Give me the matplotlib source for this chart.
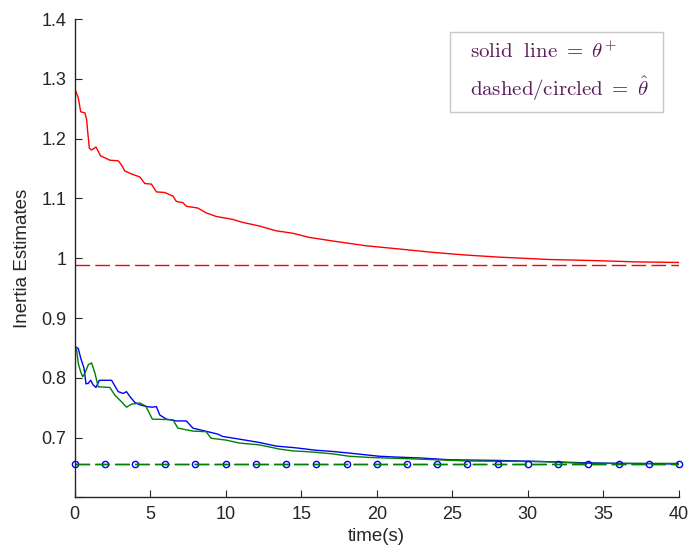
import matplotlib
matplotlib.use("Agg")
import matplotlib.pyplot as plt
from matplotlib.patches import Rectangle

plt.rcParams["font.family"] = ["Liberation Sans", "DejaVu Sans"]
plt.rcParams["mathtext.fontset"] = "cm"
plt.rcParams["lines.scale_dashes"] = False

# Estimate of the first inertia parameter (red)
t_red = [0.0, 0.25, 0.41, 0.69, 0.80, 0.87, 0.98, 1.13, 1.42, 1.73, 2.01, 2.34,
         2.89, 3.11, 3.33, 3.77, 4.32, 4.65, 5.09, 5.42, 5.97, 6.51, 6.74, 7.17,
         7.40, 8.16, 8.71, 9.37, 10.47, 11.13, 12.23, 13.33, 14.42, 15.52, 17.06,
         19.26, 21.46, 23.65, 25.85, 28.05, 31.35, 34.64, 37.06, 40.0]
v_red = [1.285, 1.268, 1.245, 1.243, 1.232, 1.212, 1.184, 1.181, 1.186, 1.171,
         1.168, 1.164, 1.163, 1.156, 1.146, 1.141, 1.136, 1.125, 1.124, 1.111,
         1.110, 1.104, 1.095, 1.093, 1.087, 1.084, 1.076, 1.070, 1.065, 1.060,
         1.054, 1.046, 1.042, 1.035, 1.029, 1.021, 1.0156, 1.010, 1.0055, 1.002,
         0.998, 0.996, 0.994, 0.993]

# Estimate of the second inertia parameter (blue)
t_blue = [0.0, 0.25, 0.41, 0.63, 0.76, 0.91, 1.07, 1.24, 1.42, 1.64, 2.45, 2.89,
          3.22, 3.44, 3.66, 3.99, 4.32, 4.76, 5.15, 5.42, 5.64, 6.08, 6.74, 7.40,
          7.83, 8.82, 9.48, 9.81, 10.8, 12.23, 13.33, 14.65, 15.97, 17.06, 18.27,
          20.14, 20.9, 22.9, 24.87, 27.9, 31.1, 33.8, 36.0, 40.0]
v_blue = [0.853, 0.849, 0.833, 0.816, 0.790, 0.791, 0.796, 0.788, 0.784, 0.796,
          0.796, 0.777, 0.774, 0.777, 0.769, 0.759, 0.755, 0.752, 0.751, 0.752,
          0.738, 0.731, 0.728, 0.728, 0.716, 0.710, 0.706, 0.702, 0.698, 0.692,
          0.686, 0.683, 0.679, 0.677, 0.674, 0.669, 0.668, 0.666, 0.663, 0.662,
          0.660, 0.658, 0.657, 0.656]

# Estimate of the third inertia parameter (green)
t_green = [0.0, 0.14, 0.25, 0.41, 0.54, 0.69, 0.91, 1.13, 1.35, 1.57, 2.34, 2.67,
           3.11, 3.44, 3.77, 4.32, 4.71, 5.15, 6.51, 6.84, 7.83, 8.71, 9.04,
           10.03, 10.91, 12.23, 13.55, 14.42, 15.74, 17.06, 18.16, 19.48, 23.0,
           26.07, 30.9, 33.8, 40.0]
v_green = [0.853, 0.847, 0.824, 0.810, 0.802, 0.808, 0.822, 0.825, 0.808, 0.785,
           0.784, 0.771, 0.760, 0.751, 0.756, 0.758, 0.753, 0.731, 0.730, 0.716,
           0.711, 0.710, 0.699, 0.696, 0.691, 0.688, 0.681, 0.678, 0.676, 0.673,
           0.669, 0.667, 0.664, 0.661, 0.660, 0.657, 0.657]

# True parameter values
true_red = 0.989
true_green = 0.6555
true_blue = 0.6555
t_span = [0.0, 40.0]
t_circles = list(range(0, 41, 2))

fig = plt.figure(figsize=(6.9, 5.53), dpi=100)
ax = fig.add_axes([0.108, 0.1004, 0.876, 0.8651])

lw = 1.0
dash = (10.5, 3.8)
ax.plot(t_red, v_red, color=(1, 0, 0), lw=lw)
ax.plot(t_span, [true_red, true_red], color=(1, 0, 0), lw=lw, dashes=dash)
ax.plot(t_blue, v_blue, color=(0, 0, 1), lw=lw)
ax.plot(t_green, v_green, color=(0, 0.5, 0), lw=lw)
ax.plot(t_span, [true_blue, true_blue], color=(0, 0, 1), lw=lw, dashes=dash)
ax.plot(t_circles, [true_blue] * len(t_circles), ls="none", marker="o",
        ms=4.5, mfc="none", mec=(0, 0, 1), mew=1.0, clip_on=False)
ax.plot(t_span, [true_green, true_green], color=(0, 0.5, 0), lw=lw, dashes=dash)

ax.set_xlim(0, 40)
ax.set_ylim(0.6, 1.4)
ax.set_xticks(range(0, 41, 5))
ax.set_yticks([0.6, 0.7, 0.8, 0.9, 1.0, 1.1, 1.2, 1.3, 1.4])
ax.set_yticklabels(["", "0.7", "0.8", "0.9", "1", "1.1", "1.2", "1.3", "1.4"])
ax.tick_params(direction="in", length=5, width=0.8, labelsize=13,
               colors="#262626", pad=6)
for side in ("top", "right"):
    ax.spines[side].set_visible(False)
for side in ("left", "bottom"):
    ax.spines[side].set_color("#262626")
    ax.spines[side].set_linewidth(1.0)

ax.set_xlabel("time(s)", fontsize=13.5, color="#262626", labelpad=4)
ax.set_ylabel("Inertia Estimates", fontsize=13.5, color="#262626", labelpad=7)

# Annotation box explaining the line styles
box = Rectangle((0.622, 0.806), 0.352, 0.167, transform=ax.transAxes,
                facecolor="white", edgecolor="#c8c8c8", lw=1.0, zorder=5)
ax.add_patch(box)
txt_color = "#5a1c5a"
ax.text(0.654, 0.933, r"$\mathrm{solid\ \ line}\ =\ \theta^{+}$",
        transform=ax.transAxes, fontsize=15, color=txt_color, va="center",
        zorder=6)
ax.text(0.654, 0.855, r"$\mathrm{dashed/circled}\ =\ \hat{\theta}$",
        transform=ax.transAxes, fontsize=15, color=txt_color, va="center",
        zorder=6)

fig.savefig("out.png", dpi=100)
